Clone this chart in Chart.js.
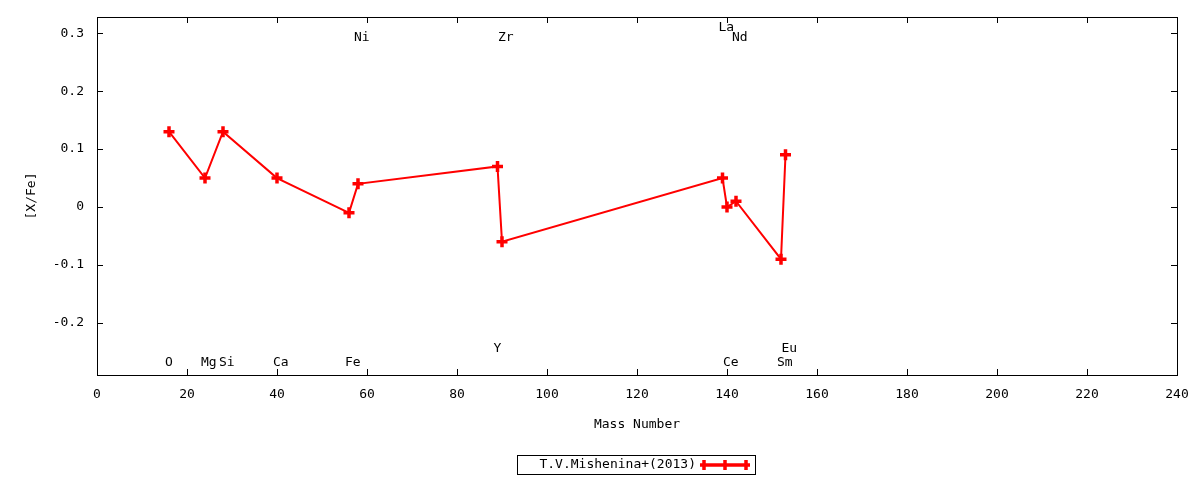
<!DOCTYPE html>
<html>
<head>
<meta charset="utf-8">
<script src="https://cdn.jsdelivr.net/npm/chart.js@4.4.0/dist/chart.umd.min.js"></script>
<style>
html, body { margin: 0; padding: 0; background: #fff; }
#wrap { width: 1200px; height: 480px; }
</style>
</head>
<body>
<div id="wrap"><canvas id="massChart"></canvas></div>
<script>
const massNumbers = [16, 24, 28, 40, 56, 58, 89, 90, 139, 140, 142, 152, 153];
const xFe = [0.13, 0.05, 0.13, 0.05, -0.01, 0.04, 0.07, -0.06, 0.05, 0.0, 0.01, -0.09, 0.09];
const elements = ['O', 'Mg', 'Si', 'Ca', 'Fe', 'Ni', 'Y', 'Zr', 'La', 'Ce', 'Nd', 'Sm', 'Eu'];
// 0 = bottom row, 1 = second bottom row, 2 = top row, 3 = second top row
const labelRow = [0, 0, 0, 0, 0, 2, 1, 2, 3, 0, 2, 0, 1];
const xTicks = [0, 20, 40, 60, 80, 100, 120, 140, 160, 180, 200, 220, 240];
const yTicks = [-0.2, -0.1, 0, 0.1, 0.2, 0.3];
const seriesName = 'T.V.Mishenina+(2013)';

const FONT = '13px "DejaVu Sans Mono"';
const RED = '#ff0000';
const rowY = [-0.269, -0.245, 0.293, 0.310];

Chart.defaults.font.family = '"DejaVu Sans Mono", monospace';
Chart.defaults.font.size = 13;
Chart.defaults.color = '#000';

// frame, inward ticks on all 4 sides, element names and the key
const gnuFrame = {
    id: 'gnuFrame',
    beforeDatasetsDraw(chart) {
        const ctx = chart.ctx;
        const a = chart.chartArea;
        const xs = chart.scales.x, ys = chart.scales.y;
        ctx.save();
        ctx.strokeStyle = '#000';
        ctx.lineWidth = 1;
        ctx.strokeRect(Math.round(a.left) + 0.5, Math.round(a.top) + 0.5,
            Math.round(a.right - a.left), Math.round(a.bottom - a.top));
        ctx.beginPath();
        xTicks.forEach(v => {
            const px = Math.round(xs.getPixelForValue(v)) + 0.5;
            ctx.moveTo(px, a.bottom); ctx.lineTo(px, a.bottom - 6);
            ctx.moveTo(px, a.top); ctx.lineTo(px, a.top + 6);
        });
        yTicks.forEach(v => {
            const py = Math.round(ys.getPixelForValue(v)) + 0.5;
            ctx.moveTo(a.left, py); ctx.lineTo(a.left + 6, py);
            ctx.moveTo(a.right, py); ctx.lineTo(a.right - 6, py);
        });
        ctx.stroke();
        ctx.restore();
    },
    afterDraw(chart) {
        const ctx = chart.ctx;
        const xs = chart.scales.x, ys = chart.scales.y;
        ctx.save();
        ctx.font = FONT;
        ctx.fillStyle = '#000';
        ctx.textAlign = 'left';
        ctx.textBaseline = 'middle';
        elements.forEach((el, i) => {
            const px = xs.getPixelForValue(massNumbers[i]) - 4;
            const py = ys.getPixelForValue(rowY[labelRow[i]]);
            ctx.fillText(el, px, py);
        });

        // key
        ctx.strokeStyle = '#000';
        ctx.lineWidth = 1;
        ctx.strokeRect(517.5, 455.5, 238, 19);
        ctx.textAlign = 'right';
        ctx.fillText(chart.data.datasets[0].label, 696, 465);
        ctx.strokeStyle = RED;
        ctx.lineWidth = 3.5;
        ctx.beginPath();
        ctx.moveTo(704, 465); ctx.lineTo(746, 465);
        [704, 725, 746].forEach(x => {
            ctx.moveTo(x - 4, 465); ctx.lineTo(x + 4, 465);
            ctx.moveTo(x, 460); ctx.lineTo(x, 470);
        });
        ctx.stroke();
        ctx.restore();
    }
};

const ctx = document.getElementById('massChart').getContext('2d');

new Chart(ctx, {
    type: 'line',
    data: {
        datasets: [{
            label: seriesName,
            data: massNumbers.map((m, i) => ({ x: m, y: xFe[i] })),
            borderColor: RED,
            backgroundColor: RED,
            borderWidth: 2,
            pointStyle: 'cross',
            pointRadius: 5.5,
            pointBorderWidth: 3.5,
            pointBorderColor: RED,
            tension: 0,
            fill: false
        }]
    },
    options: {
        responsive: true,
        maintainAspectRatio: false,
        animation: false,
        layout: { padding: { top: 17, right: 23, left: 0, bottom: 0 } },
        plugins: {
            legend: { display: false },
            tooltip: { enabled: false }
        },
        scales: {
            x: {
                type: 'linear',
                min: 0,
                max: 240,
                afterBuildTicks: s => { s.ticks = xTicks.map(v => ({ value: v })); },
                afterFit: s => { s.height = 105; s.paddingLeft = 0; s.paddingRight = 0; },
                grid: { display: false, drawTicks: false },
                border: { display: false },
                ticks: { padding: 12, maxRotation: 0, callback: v => String(v) },
                title: { display: true, text: 'Mass Number', padding: { top: 0, bottom: 48 } }
            },
            y: {
                type: 'linear',
                min: -0.29,
                max: 0.328,
                afterBuildTicks: s => { s.ticks = yTicks.map(v => ({ value: v })); },
                afterFit: s => { s.width = 97; s.paddingTop = 0; s.paddingBottom = 0; },
                grid: { display: false, drawTicks: false },
                border: { display: false },
                ticks: { padding: 13, callback: v => (v === 0 ? '0' : v.toFixed(1)) },
                title: { display: true, text: '[X/Fe]', padding: { top: 24, bottom: 0 } }
            }
        }
    },
    plugins: [gnuFrame]
});
</script>
</body>
</html>
